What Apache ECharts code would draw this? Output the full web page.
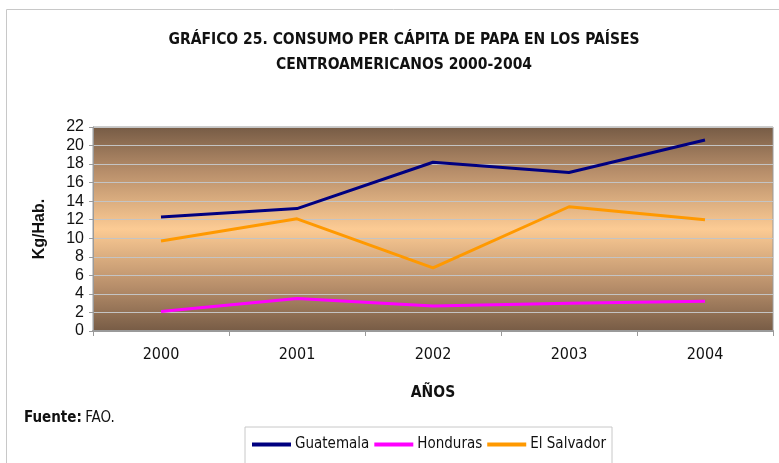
<!DOCTYPE html>
<html>
<head>
<meta charset="utf-8">
<script src="https://cdn.jsdelivr.net/npm/echarts@6/dist/echarts.min.js"></script>
<style>
  html, body { margin: 0; padding: 0; background: #fff; }
  #chart { width: 779px; height: 463px; }
</style>
</head>
<body>
<div id="chart"></div>
<script>
  // datos
  var years = ['2000', '2001', '2002', '2003', '2004'];
  var guatemala = [12.3, 13.2, 18.2, 17.1, 20.6];
  var honduras = [2.1, 3.5, 2.7, 3.0, 3.2];
  var elSalvador = [9.7, 12.1, 6.8, 13.4, 12.0];
  var yTicks = [0, 2, 4, 6, 8, 10, 12, 14, 16, 18, 20, 22];

  var narrow = '"Liberation Sans Narrow", "Arial Narrow", "DejaVu Sans Condensed", sans-serif';
  var sans = '"Liberation Sans", Arial, sans-serif';

  var chart = echarts.init(document.getElementById('chart'));

  var bg = new echarts.graphic.LinearGradient(0, 0, 0, 1, [
    {offset: 0, color: '#765b45'},
    {offset: 0.22, color: '#b78e6a'},
    {offset: 0.5, color: '#fccb94'},
    {offset: 0.78, color: '#b78e6a'},
    {offset: 1, color: '#765b45'}
  ]);

  chart.setOption({
    animation: false,
    title: {
      text: 'GRÁFICO 25. CONSUMO PER CÁPITA DE PAPA EN LOS PAÍSES\nCENTROAMERICANOS 2000-2004',
      left: 399,
      textAlign: 'center',
      top: 22,
      textStyle: {
        fontFamily: narrow,
        fontSize: 15.5,
        fontWeight: 'bold',
        color: '#111',
        lineHeight: 25
      }
    },
    graphic: [
      { // marco exterior
        type: 'rect',
        shape: {x: 6.5, y: 9.5, width: 800, height: 500},
        style: {fill: 'none', stroke: '#c8c8c8', lineWidth: 1},
        z: -1
      },
      {
        type: 'text',
        left: 24,
        top: 411,
        style: {
          rich: {
            b: {fontFamily: narrow, fontSize: 15, fontWeight: 'bold', fill: '#111'},
            n: {fontFamily: narrow, fontSize: 15, fill: '#111'}
          },
          text: '{b|Fuente:} {n|FAO.}'
        }
      }
    ],
    legend: {
      left: 245,
      top: 427,
      width: 377,
      padding: [10, 6, 16, 7],
      borderColor: '#c8c8c8',
      borderWidth: 1,
      backgroundColor: '#fff',
      itemWidth: 39,
      itemHeight: 4,
      itemGap: 5,
      icon: 'rect',
      textStyle: {fontFamily: narrow, fontSize: 15, color: '#111', padding: [0, 0, 0, -1]},
      data: ['Guatemala', 'Honduras', 'El Salvador']
    },
    grid: {
      left: 93,
      right: 6,
      top: 127,
      bottom: 132,
      show: true,
      backgroundColor: bg,
      borderColor: '#9a9a9a',
      borderWidth: 1
    },
    xAxis: {
      type: 'category',
      data: years,
      boundaryGap: true,
      name: 'AÑOS',
      nameLocation: 'middle',
      nameGap: 54,
      nameTextStyle: {fontFamily: narrow, fontSize: 15.5, fontWeight: 'bold', color: '#111'},
      axisLine: {lineStyle: {color: '#9a9a9a', width: 2}},
      axisTick: {show: true, length: 5, lineStyle: {color: '#9a9a9a'}},
      axisLabel: {fontFamily: narrow, fontSize: 16, color: '#111', margin: 16}
    },
    yAxis: {
      type: 'value',
      min: yTicks[0],
      max: yTicks[yTicks.length - 1],
      interval: 2,
      name: 'Kg/Hab.',
      nameLocation: 'middle',
      nameGap: 45,
      nameTextStyle: {fontFamily: sans, fontSize: 16, fontWeight: 'bold', color: '#111'},
      axisLine: {show: true, lineStyle: {color: '#9a9a9a'}},
      axisTick: {show: true, length: 4, lineStyle: {color: '#9a9a9a'}},
      axisLabel: {fontFamily: sans, fontSize: 16, color: '#111', margin: 9},
      splitLine: {lineStyle: {color: '#c4c4c4', width: 1}}
    },
    series: [
      {
        name: 'Guatemala',
        type: 'line',
        data: guatemala,
        symbol: 'none',
        lineStyle: {color: '#000080', width: 3},
        itemStyle: {color: '#000080'}
      },
      {
        name: 'Honduras',
        type: 'line',
        data: honduras,
        symbol: 'none',
        lineStyle: {color: '#ff00ff', width: 3},
        itemStyle: {color: '#ff00ff'}
      },
      {
        name: 'El Salvador',
        type: 'line',
        data: elSalvador,
        symbol: 'none',
        lineStyle: {color: '#ff9900', width: 3},
        itemStyle: {color: '#ff9900'}
      }
    ]
  });
</script>
</body>
</html>
